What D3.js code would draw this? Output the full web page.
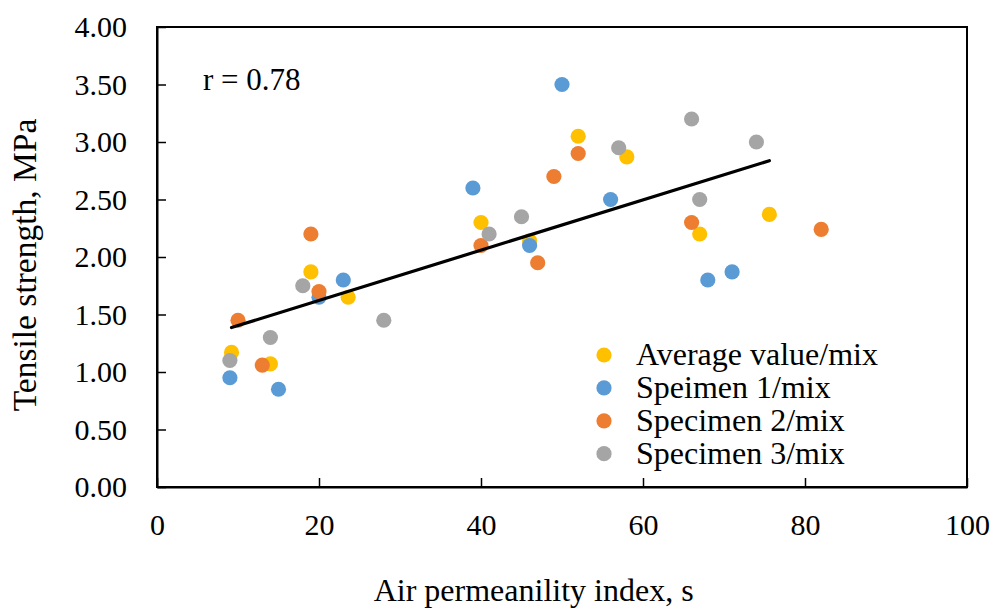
<!DOCTYPE html>
<html>
<head>
<meta charset="utf-8">
<script src="https://cdn.jsdelivr.net/npm/d3@7"></script>
<style>
    body{margin:0;background:#fff;}
</style>
</head>
<body>
<svg id="chart"></svg>
<script>
// values
const series_names = ["Average value/mix","Speimen 1/mix","Specimen 2/mix","Specimen 3/mix"];
const series_colors = ["#FFC000","#5B9BD5","#ED7D31","#A5A5A5"];

const avg_x = [9.2,14,19,23.6,40,46,52,58,67,75.6];
const avg_y = [1.17,1.07,1.87,1.65,2.30,2.14,3.05,2.87,2.20,2.37];

const s1_x = [9,15,20,23,39,46,50,56,68,71];
const s1_y = [0.95,0.85,1.65,1.80,2.60,2.10,3.50,2.50,1.80,1.87];

const s2_x = [10,13,19,20,40,47,49,52,66,82];
const s2_y = [1.45,1.06,2.20,1.70,2.10,1.95,2.70,2.90,2.30,2.24];

const s3_x = [9,14,18,28,41,45,57,66,67,74];
const s3_y = [1.10,1.30,1.75,1.45,2.20,2.35,2.95,3.20,2.50,3.00];

const x_ticks = [0,20,40,60,80,100];
const y_ticks = [0,0.5,1,1.5,2,2.5,3,3.5,4];
const r_label = "r = 0.78";

const FONT = "Liberation Serif";

class Scatter_plot{
    constructor(config,data){
        this.config = config;
        this.data = data;
        this.init();
    }
    init(){
        let self = this;
        let m = self.config.margin;
        self.inner_width = self.config.width-m.left-m.right;
        self.inner_height = self.config.height-m.top-m.bottom;

        self.svg = d3.select(self.config.parent)
            .attr("width",self.config.width)
            .attr("height",self.config.height)
            .attr("font-family",FONT)

        self.chart = self.svg.append("g")
            .attr("transform",`translate(${m.left},${m.top})`)

        self.xscale = d3.scaleLinear().domain([0,100]).range([0,self.inner_width])
        self.yscale = d3.scaleLinear().domain([0,4]).range([self.inner_height,0])
    }
    render(){
        let self = this;
        let w = self.inner_width, h = self.inner_height;

        // frame
        self.chart.append("rect")
            .attr("width",w).attr("height",h)
            .attr("fill","none").attr("stroke","#000").attr("stroke-width",2)

        // x axis: ticks point up into the plot
        let xaxis = d3.axisBottom(self.xscale).tickValues(x_ticks)
            .tickSizeInner(-9).tickSizeOuter(0).tickPadding(27)
            .tickFormat(d3.format("d"))
        let xg = self.chart.append("g").attr("transform",`translate(0,${h})`).call(xaxis)
            .attr("font-family",FONT).attr("font-size",30)
        xg.select(".domain").attr("stroke-width",2)
        xg.selectAll(".tick line").attr("stroke-width",1.5)
        xg.selectAll(".tick text").attr("font-family",FONT).attr("font-size",30).attr("fill","#000")

        // y axis: ticks point right into the plot
        let yaxis = d3.axisLeft(self.yscale).tickValues(y_ticks)
            .tickSizeInner(-9).tickSizeOuter(0).tickPadding(30)
            .tickFormat(d3.format(".2f"))
        let yg = self.chart.append("g").call(yaxis)
            .attr("font-family",FONT).attr("font-size",30)
        yg.select(".domain").attr("stroke-width",2)
        yg.selectAll(".tick line").attr("stroke-width",1.5)
        yg.selectAll(".tick text").attr("font-family",FONT).attr("font-size",30).attr("fill","#000")

        // points
        self.data.forEach((s,i)=>{
            self.chart.append("g").selectAll("circle")
                .data(s.x.map((v,j)=>({x:v,y:s.y[j]})))
                .join("circle")
                .attr("cx",d=>self.xscale(d.x))
                .attr("cy",d=>self.yscale(d.y))
                .attr("r",7.6)
                .attr("fill",s.color)
        })

        // linear trend line of the average values
        let a = self.data[0];
        let mx = d3.mean(a.x), my = d3.mean(a.y);
        let sxy = d3.sum(a.x,(v,j)=>(v-mx)*(a.y[j]-my));
        let sxx = d3.sum(a.x,v=>(v-mx)*(v-mx));
        let slope = sxy/sxx, icpt = my-slope*mx;
        let ends = d3.extent(a.x);
        self.chart.append("line")
            .attr("x1",self.xscale(ends[0])).attr("y1",self.yscale(icpt+slope*ends[0]))
            .attr("x2",self.xscale(ends[1])).attr("y2",self.yscale(icpt+slope*ends[1]))
            .attr("stroke","#000").attr("stroke-width",3.2).attr("stroke-linecap","round")

        self.chart.append("text")
            .attr("x",46).attr("y",63)
            .attr("font-family",FONT).attr("font-size",31)
            .text(r_label)

        // legend
        let lg = self.chart.append("g").attr("transform",`translate(447,328)`)
        self.data.forEach((s,i)=>{
            lg.append("circle").attr("cx",0).attr("cy",i*32.9).attr("r",7.6).attr("fill",s.color)
            lg.append("text").attr("x",32).attr("y",i*32.9+10)
                .attr("font-family",FONT).attr("font-size",32).text(s.name)
        })

        // axis titles
        self.svg.append("text")
            .attr("x",self.config.margin.left+w*0.465)
            .attr("y",601)
            .attr("text-anchor","middle")
            .attr("font-family",FONT).attr("font-size",32)
            .text(self.config.xlabel)

        self.svg.append("text")
            .attr("transform","rotate(-90)")
            .attr("x",-265)
            .attr("y",36)
            .attr("text-anchor","middle")
            .attr("font-family",FONT).attr("font-size",33.5)
            .text(self.config.ylabel)
    }
}

const data = [
    {name:series_names[0],color:series_colors[0],x:avg_x,y:avg_y},
    {name:series_names[1],color:series_colors[1],x:s1_x,y:s1_y},
    {name:series_names[2],color:series_colors[2],x:s2_x,y:s2_y},
    {name:series_names[3],color:series_colors[3],x:s3_x,y:s3_y}
];

const plot = new Scatter_plot({
    parent:"#chart",
    width:997,
    height:610,
    margin:{top:27,right:30,bottom:123,left:157},
    xlabel:"Air permeanility index, s",
    ylabel:"Tensile strength, MPa"
},data);
plot.render();
</script>
</body>
</html>
